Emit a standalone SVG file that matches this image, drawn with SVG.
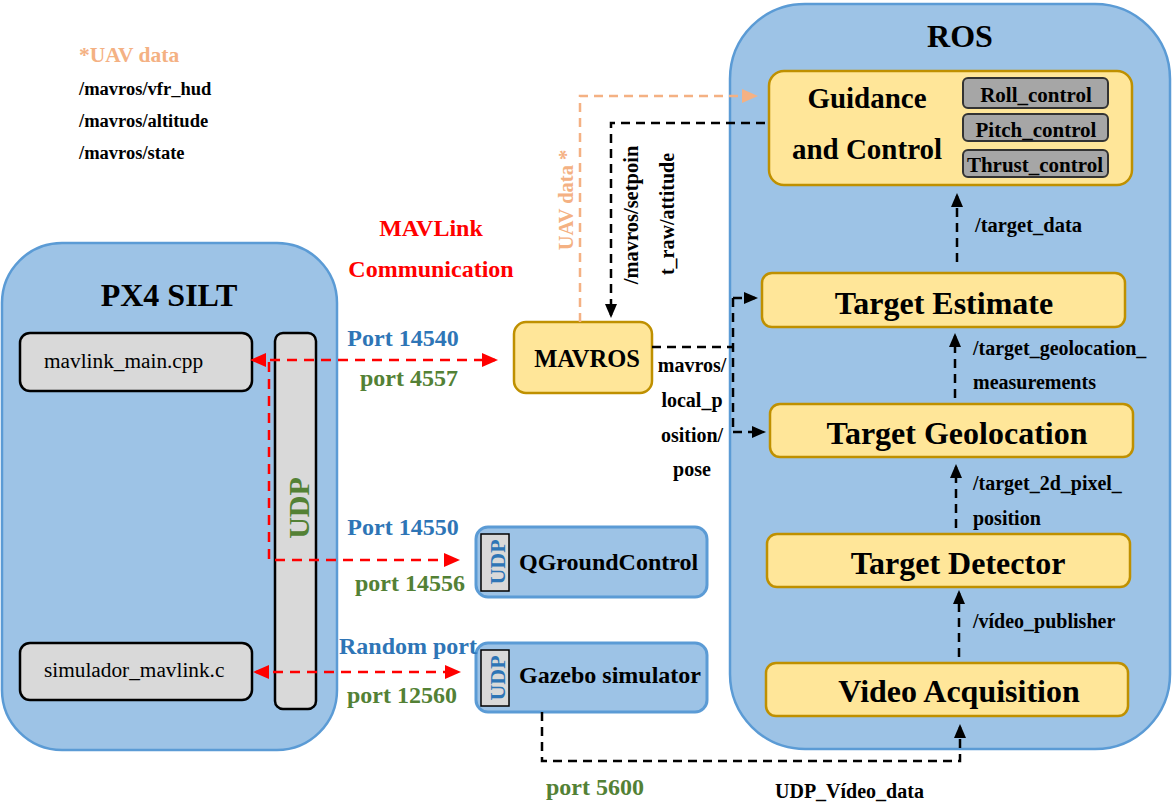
<svg xmlns="http://www.w3.org/2000/svg" width="1173" height="803" viewBox="0 0 1173 803">
<style>
text{font-family:'Liberation Serif','Times New Roman',serif;font-weight:bold}
.cont{fill:#9DC3E6;stroke:#5B9BD5;stroke-width:2.5}
.yel{fill:#FFE699;stroke:#BF9000;stroke-width:2.5}
.gry{fill:#D9D9D9;stroke:#000;stroke-width:2.5}
.ctl{fill:#A6A6A6;stroke:#333;stroke-width:2}
.big{font-size:32px;text-anchor:middle}
.title{font-size:32px;text-anchor:middle}
.ctrl{font-size:21px;text-anchor:middle}
.lbl{font-size:20px}
.mid{text-anchor:middle}
.port{font-size:24px;text-anchor:middle}
.node{font-size:24px}
.file{font-size:21.3px;font-weight:normal}
.blue{fill:#2E75B6}
.green{fill:#538135}
.orange{fill:#F4B183}
.redt{fill:#FF0000}
.blk{fill:none;stroke:#000;stroke-width:2.5;stroke-dasharray:9 6}
.red{fill:none;stroke:#FF0000;stroke-width:2.5;stroke-dasharray:10 7}
.org{fill:none;stroke:#F4B183;stroke-width:2.5;stroke-dasharray:9 6}
</style>
<defs>
<marker id="ab" viewBox="0 0 14 12" refX="11" refY="6" markerWidth="14" markerHeight="12" markerUnits="userSpaceOnUse" orient="auto"><path d="M0,0 L14,6 L0,12 z" fill="#000"/></marker>
<marker id="ao" viewBox="0 0 16 14" refX="13" refY="7" markerWidth="16" markerHeight="14" markerUnits="userSpaceOnUse" orient="auto"><path d="M0,0 L16,7 L0,14 z" fill="#F4B183"/></marker>
<marker id="ar" viewBox="0 0 16 14" refX="13" refY="7" markerWidth="16" markerHeight="14" markerUnits="userSpaceOnUse" orient="auto-start-reverse"><path d="M0,0 L16,7 L0,14 z" fill="#FF0000"/></marker>
</defs>

<g id="uav-data-legend">
<text x="79" y="62" class="orange" style="font-size:21.5px">*UAV data</text>
<text x="79" y="95" style="font-size:18.5px">/mavros/vfr_hud</text>
<text x="79" y="127" style="font-size:18.5px">/mavros/altitude</text>
<text x="79" y="159" style="font-size:18.5px">/mavros/state</text>
</g>

<g id="px4-silt">
<rect class="cont" x="2" y="243" width="335" height="507" rx="60"/>
<text x="169" y="306" class="title">PX4 SILT</text>
</g>
<g id="mavlink-main">
<rect class="gry" x="20" y="333" width="232" height="58" rx="10"/>
<text x="44" y="368" class="file">mavlink_main.cpp</text>
</g>
<g id="simulador-mavlink">
<rect class="gry" x="20" y="643" width="232" height="57" rx="10"/>
<text x="44" y="677" class="file">simulador_mavlink.c</text>
</g>
<g id="udp-bar">
<rect class="gry" x="275" y="333" width="41" height="376" rx="8"/>
<text transform="translate(309,508) rotate(-90)" class="green mid" style="font-size:30px">UDP</text>
</g>

<g id="mavlink-comm">
<text x="431" y="236" class="port redt">MAVLink</text>
<text x="431" y="277" class="port redt">Communication</text>
</g>

<g id="mavros">
<rect class="yel" x="514" y="322" width="138" height="71" rx="12"/>
<text x="587" y="367" class="mid" style="font-size:24.5px">MAVROS</text>
</g>

<g id="qgroundcontrol">
<rect class="cont" x="476" y="527" width="231" height="70" rx="12" style="stroke-width:3"/>
<rect x="481" y="534" width="28" height="57" fill="#D9D9D9" stroke="#000" stroke-width="1.5"/>
<text transform="translate(505,562) rotate(-90)" class="blue mid" style="font-size:22px">UDP</text>
<text x="519" y="570" class="node">QGroundControl</text>
</g>
<g id="gazebo">
<rect class="cont" x="476" y="643" width="231" height="69" rx="12" style="stroke-width:3"/>
<rect x="481" y="650" width="28" height="56" fill="#D9D9D9" stroke="#000" stroke-width="1.5"/>
<text transform="translate(505,678) rotate(-90)" class="blue mid" style="font-size:22px">UDP</text>
<text x="519" y="683" class="node">Gazebo simulator</text>
</g>

<g id="ros">
<rect class="cont" x="730" y="4" width="440" height="745" rx="75"/>
<text x="960" y="47" class="title">ROS</text>
</g>
<g id="guidance-control">
<rect class="yel" x="769" y="71" width="363" height="114" rx="15"/>
<text x="867" y="108" class="mid" style="font-size:29px">Guidance</text>
<text x="867" y="159" class="mid" style="font-size:29px">and Control</text>
<rect class="ctl" x="963" y="78" width="145" height="30" rx="5"/>
<text x="1036" y="102" class="ctrl">Roll_control</text>
<rect class="ctl" x="963" y="114" width="145" height="27" rx="5"/>
<text x="1036" y="137" class="ctrl">Pitch_control</text>
<rect class="ctl" x="963" y="150" width="145" height="27" rx="5"/>
<text x="1035" y="172" class="ctrl">Thrust_control</text>
</g>
<g id="target-estimate">
<rect class="yel" x="762" y="273" width="363" height="54" rx="10"/>
<text x="944" y="314" class="big">Target Estimate</text>
</g>
<g id="target-geolocation">
<rect class="yel" x="770" y="404" width="363" height="53" rx="10"/>
<text x="957" y="444" class="big">Target Geolocation</text>
</g>
<g id="target-detector">
<rect class="yel" x="767" y="534" width="363" height="53" rx="10"/>
<text x="958" y="574" class="big">Target Detector</text>
</g>
<g id="video-acquisition">
<rect class="yel" x="766" y="663" width="362" height="53" rx="10"/>
<text x="959" y="702" class="big">Video Acquisition</text>
</g>

<g id="connectors">
<path class="red" d="M253,360 H495" marker-start="url(#ar)" marker-end="url(#ar)"/>
<path class="red" d="M269,362 V560 H457" marker-end="url(#ar)"/>
<path class="red" d="M256,672 H458" marker-start="url(#ar)" marker-end="url(#ar)"/>
<path class="org" d="M580,322 V96 H755" marker-end="url(#ao)"/>
<path class="blk" d="M765,123 H611 V315" marker-end="url(#ab)"/>
<path class="blk" d="M652,347 H733"/>
<path class="blk" d="M733,298 V432"/>
<path class="blk" d="M733,298 H755" marker-end="url(#ab)"/>
<path class="blk" d="M733,432 H763" marker-end="url(#ab)"/>
<path class="blk" d="M957,262 V196" marker-end="url(#ab)"/>
<path class="blk" d="M955,398 V336" marker-end="url(#ab)"/>
<path class="blk" d="M956,528 V467" marker-end="url(#ab)"/>
<path class="blk" d="M959,657 V593" marker-end="url(#ab)"/>
<path class="blk" d="M542,712 V761 H960 V727" marker-end="url(#ab)"/>
</g>

<g id="connector-labels">
<text x="403" y="346" class="port blue">Port 14540</text>
<text x="409" y="386" class="port green">port 4557</text>
<text x="403" y="535" class="port blue">Port 14550</text>
<text x="410" y="591" class="port green">port 14556</text>
<text x="408" y="654" class="port blue">Random port</text>
<text x="402" y="703" class="port green">port 12560</text>
<text x="595" y="795" class="port green">port 5600</text>
<text x="775" y="798" class="lbl">UDP_Vídeo_data</text>
<text transform="translate(573,200) rotate(-90)" class="orange mid" style="font-size:20.5px">UAV data *</text>
<text transform="translate(638,215) rotate(-90)" class="lbl mid" style="font-size:20.5px">/mavros/setpoin</text>
<text transform="translate(674,214) rotate(-90)" class="lbl mid">t_raw/attitude</text>
<text x="692" y="372" class="lbl mid">mavros/</text>
<text x="692" y="407" class="lbl mid">local_p</text>
<text x="692" y="442" class="lbl mid">osition/</text>
<text x="692" y="476" class="lbl mid">pose</text>
<text x="975" y="232" class="lbl" style="font-size:20.5px">/target_data</text>
<text x="973" y="355" class="lbl">/target_geolocation_</text>
<text x="973" y="389" class="lbl">measurements</text>
<text x="973" y="490" class="lbl">/target_2d_pixel_</text>
<text x="973" y="525" class="lbl">position</text>
<text x="973" y="628" class="lbl">/vídeo_publisher</text>
</g>
</svg>
